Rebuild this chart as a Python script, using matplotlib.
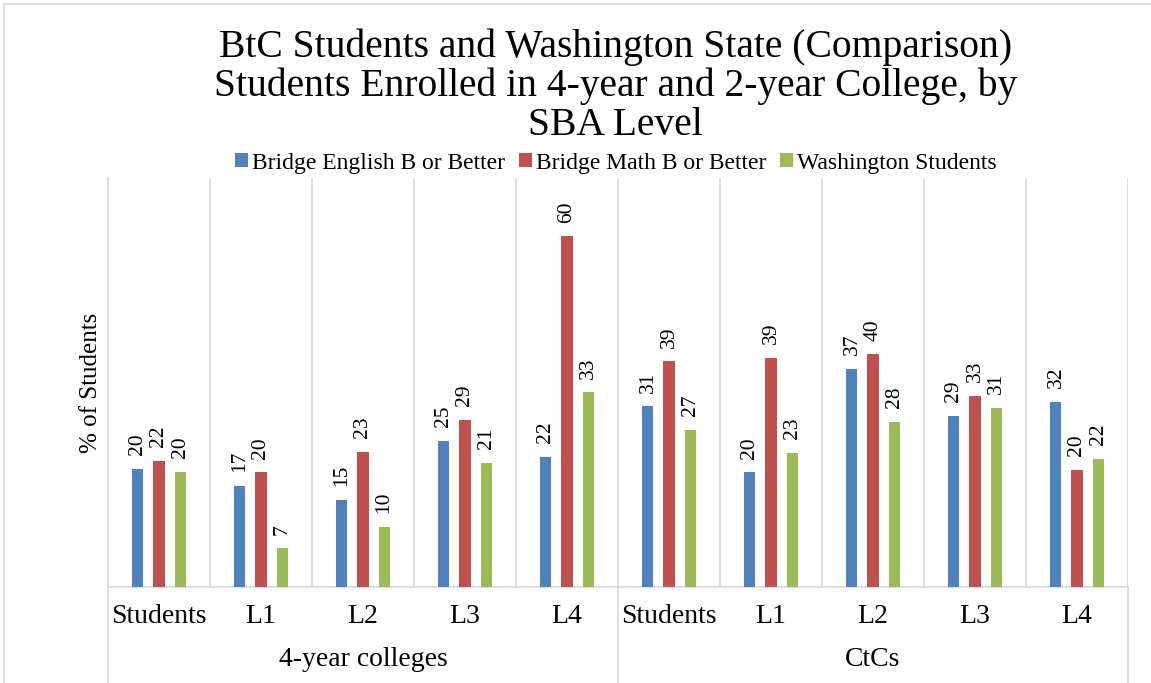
import matplotlib
matplotlib.use('Agg')
import matplotlib.pyplot as plt
from matplotlib.lines import Line2D
import numpy as np

categories = ["Students", "L1", "L2", "L3", "L4", "Students", "L1", "L2", "L3", "L4"]
groups = ["4-year colleges", "CtCs"]
english = [20.2, 17.3, 14.9, 25.0, 22.3, 30.9, 19.6, 37.3, 29.2, 31.6]
math = [21.6, 19.6, 23.1, 28.6, 60.0, 38.6, 39.2, 39.8, 32.7, 20.1]
washington = [19.7, 6.6, 10.3, 21.3, 33.3, 26.9, 23.0, 28.3, 30.7, 21.9]
series_names = ["Bridge English B or Better", "Bridge Math B or Better", "Washington Students"]
colors = ["#4F81BD", "#C0504D", "#9BBB59"]

plt.rcParams['font.family'] = ['Liberation Serif', 'DejaVu Serif']
grid_c = "#d9d9d9"

fig = plt.figure(figsize=(11.51, 6.83), dpi=100)
ax = fig.add_axes([108/1151, 96/683, 1020/1151, 409/683])

x = np.arange(len(categories))
step, width = 0.206, 0.108
for i, (vals, name, c) in enumerate(zip([english, math, washington], series_names, colors)):
    bars = ax.bar(x + (i - 1) * step, vals, width, color=c, label=name, zorder=3)
    for b, v in zip(bars, vals):
        ax.annotate("{:.0f}".format(v), (b.get_x() + b.get_width() / 2, v),
                    xytext=(0, 10), textcoords='offset points', rotation=90,
                    ha='center', va='bottom', fontsize=15.5)

ax.set_xlim(-0.5, len(categories) - 0.5)
ax.set_ylim(0, 70)
ax.set_yticks([])
ax.set_xticks([])
for b in np.arange(-0.5, len(categories), 1.0):
    ax.axvline(b, color=grid_c, lw=1.2, zorder=1)
for s in ['top', 'right']:
    ax.spines[s].set_visible(False)
for s in ['left', 'bottom']:
    ax.spines[s].set_color(grid_c)
    ax.spines[s].set_linewidth(1.2)

# category and group labels below the axis
trans = ax.get_xaxis_transform()
for xi, lab in zip(x, categories):
    ax.text(xi, -0.073, lab, transform=trans, ha='center', va='center', fontsize=20)
for gi, g in enumerate(groups):
    ax.text(gi * 5 + 2, -0.178, g, transform=trans, ha='center', va='center', fontsize=20)
for b in [-0.5, 4.5, 9.5]:
    ax.plot([b, b], [0, -0.235], transform=trans, color=grid_c, lw=1.2, clip_on=False)

ax.set_ylabel("% of Students", fontsize=18, labelpad=4)

fig.text(0.535, 0.874, "BtC Students and Washington State (Comparison)\n"
         "Students Enrolled in 4-year and 2-year College, by\nSBA Level",
         ha='center', va='center', fontsize=28.5, linespacing=1.06)

fig.legend(loc='center', bbox_to_anchor=(0.535, 0.761), ncol=3, frameon=False,
           fontsize=17, handlelength=0.55, handleheight=0.55, handletextpad=0.15,
           columnspacing=0.6)

# outer chart border
fig.add_artist(Line2D([4/1151, 4/1151], [0, 1 - 4/683], color=grid_c, lw=1.2))
fig.add_artist(Line2D([4/1151, 1], [1 - 4/683, 1 - 4/683], color=grid_c, lw=1.2))

fig.savefig("out.png", dpi=100)
